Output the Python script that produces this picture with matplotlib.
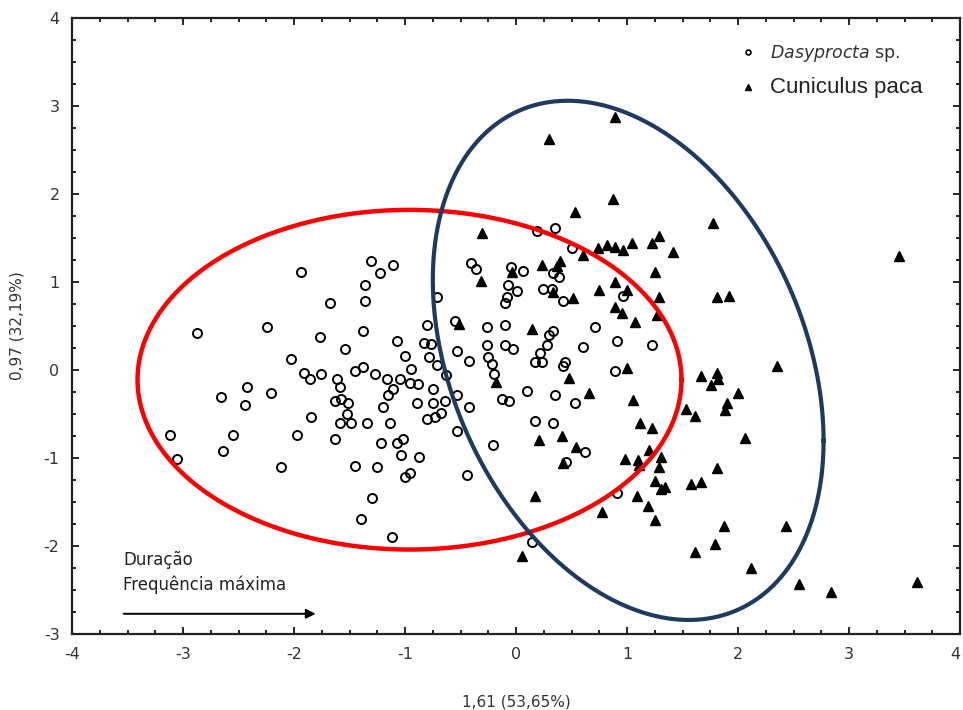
import numpy as np
import matplotlib
matplotlib.use("Agg")
import matplotlib.pyplot as plt
from matplotlib.lines import Line2D

plt.rcParams['axes.unicode_minus'] = False

# Dasyprocta sp. (open circles)
dasy_x = [-3.12, -3.05, -2.87, -2.66, -2.64, -2.55, -2.42, -2.44, -2.24, -2.21,
          -2.12, -2.03, -1.97, -1.94, -1.91, -1.86, -1.85, -1.77, -1.76, -1.68,
          -1.63, -1.61, -1.59, -1.59, -1.63, -1.58, -1.54, -1.52, -1.51, -1.49,
          -1.45, -1.45, -1.40, -1.38, -1.38, -1.36, -1.36, -1.34, -1.31, -1.30,
          -1.27, -1.25, -1.23, -1.22, -1.20, -1.16, -1.15, -1.14, -1.12, -1.11,
          -1.11, -1.07, -1.07, -1.05, -1.04, -1.02, -1.00, -1.00, -0.96, -0.96,
          -0.95, -0.89, -0.88, -0.87, -0.83, -0.80, -0.80, -0.78, -0.77, -0.75,
          -0.75, -0.73, -0.71, -0.71, -0.68, -0.64, -0.63, -0.55, -0.53, -0.53,
          -0.53, -0.44, -0.42, -0.42, -0.41, -0.36, -0.26, -0.26, -0.25, -0.22,
          -0.21, -0.20, -0.13, -0.10, -0.10, -0.10, -0.08, -0.07, -0.06, -0.05,
          -0.03, 0.01, 0.06, 0.10, 0.14, 0.17, 0.17, 0.19, 0.22, 0.23,
          0.24, 0.28, 0.30, 0.32, 0.33, 0.33, 0.33, 0.35, 0.35, 0.39,
          0.42, 0.42, 0.44, 0.45, 0.50, 0.53, 0.60, 0.62, 0.71, 0.89,
          0.91, 0.91, 0.96, 1.22]
dasy_y = [-0.74, -1.01, 0.42, -0.31, -0.92, -0.74, -0.19, -0.40, 0.49, -0.26,
          -1.10, 0.13, -0.74, 1.11, -0.03, -0.10, -0.53, 0.38, -0.05, 0.76,
          -0.35, -0.10, -0.19, -0.60, -0.78, -0.33, 0.24, -0.50, -0.38, -0.60,
          -0.01, -1.09, -1.69, 0.03, 0.44, 0.97, 0.78, -0.60, 1.24, -1.45,
          -0.05, -1.10, 1.10, -0.83, -0.42, -0.10, -0.28, -0.60, -1.90, 1.19,
          -0.22, 0.33, -0.83, -0.10, -0.97, -0.78, 0.16, -1.22, -1.17, -0.15,
          0.01, -0.38, -0.16, -0.99, 0.31, 0.51, -0.56, 0.15, 0.30, -0.22,
          -0.38, -0.53, 0.06, 0.83, -0.49, -0.35, -0.06, 0.56, 0.22, -0.28,
          -0.69, -1.19, 0.10, -0.42, 1.22, 1.15, 0.49, 0.28, 0.15, 0.07,
          -0.85, -0.05, -0.33, 0.76, 0.51, 0.28, 0.83, 0.97, -0.35, 1.17,
          0.24, 0.90, 1.12, -0.24, -1.95, 0.09, -0.58, 1.58, 0.19, 0.09,
          0.92, 0.28, 0.40, 0.92, 1.10, 0.44, -0.60, 1.61, -0.28, 1.06,
          0.78, 0.05, 0.09, -1.05, 1.39, -0.38, 0.26, -0.93, 0.49, -0.01,
          0.33, -1.40, 0.84, 0.28]

# Cuniculus paca (filled triangles)
paca_x = [0.89, 0.30, 0.87, 0.53, 1.77, 3.45, -0.31, 1.29, 1.22, 1.04,
          0.96, 0.89, 0.82, 0.74, 0.60, 1.41, 0.40, 0.37, 0.23, -0.04,
          0.89, 0.75, 1.00, 1.25, 1.29, 1.81, 1.92, 0.33, 0.51, -0.32,
          0.89, 0.95, 1.07, 1.27, -0.51, 0.14, -0.18, 0.48, 0.66, 1.05,
          1.00, 1.12, 1.22, 0.21, 0.41, 0.54, 0.42, 0.98, 1.10, 1.11,
          1.20, 1.31, 1.29, 0.17, 0.77, 1.09, 1.19, 1.25, 1.25, 1.31,
          1.34, 1.58, 1.67, 1.53, 1.61, 1.67, 1.81, 1.82, 1.76, 2.00,
          1.90, 1.88, 2.06, 2.35, 1.81, 1.87, 1.79, 1.61, 2.43, 2.12,
          2.55, 2.84, 3.61, 0.05]
paca_y = [2.88, 2.63, 1.94, 1.80, 1.67, 1.30, 1.56, 1.52, 1.44, 1.44,
          1.36, 1.40, 1.42, 1.39, 1.31, 1.34, 1.24, 1.18, 1.19, 1.11,
          1.00, 0.91, 0.91, 1.11, 0.83, 0.83, 0.84, 0.89, 0.82, 1.01,
          0.72, 0.65, 0.55, 0.63, 0.52, 0.47, -0.14, -0.09, -0.26, -0.34,
          0.02, -0.60, -0.66, -0.80, -0.75, -0.88, -1.06, -1.01, -1.02, -1.08,
          -0.91, -0.99, -1.10, -1.43, -1.61, -1.43, -1.55, -1.70, -1.26, -1.35,
          -1.33, -1.30, -1.27, -0.44, -0.52, -0.07, -0.03, -0.10, -0.17, -0.26,
          -0.38, -0.45, -0.77, 0.05, -1.11, -1.77, -1.98, -2.07, -1.77, -2.25,
          -2.43, -2.52, -2.41, -2.11]

# group ellipses: centre, half-extent in x and y, correlation
red_ell = dict(cx=-0.96, cy=-0.11, sx=2.45, sy=1.93, r=0.0)
blue_ell = dict(cx=1.01, cy=0.11, sx=1.76, sy=2.95, r=-0.31)

x_ticks = [-4, -3, -2, -1, 0, 1, 2, 3, 4]
y_ticks = [-3, -2, -1, 0, 1, 2, 3, 4]


def ellipse_xy(e, n=400):
    t = np.linspace(0, 2 * np.pi, n)
    x = e['cx'] + e['sx'] * np.cos(t)
    y = e['cy'] + e['sy'] * (e['r'] * np.cos(t) + np.sqrt(1 - e['r'] ** 2) * np.sin(t))
    return x, y


fig = plt.figure(figsize=(9.63, 7.10), dpi=100)
ax = fig.add_axes([0.0748, 0.107, 0.9222, 0.8676])

ax.plot(dasy_x, dasy_y, 'o', ms=6.5, mfc='none', mec='black', mew=1.4, zorder=3)
ax.plot(paca_x, paca_y, '^', ms=6.8, mfc='black', mec='black', zorder=3)

ex, ey = ellipse_xy(red_ell)
ax.plot(ex, ey, color='#ff0000', lw=3.2, zorder=4)
ex, ey = ellipse_xy(blue_ell)
ax.plot(ex, ey, color='#1f3a5f', lw=3.0, zorder=4)

# loading arrow
ax.annotate('', xy=(-1.78, -2.77), xytext=(-3.56, -2.77),
            arrowprops=dict(arrowstyle='-|>', lw=1.4, color='black', mutation_scale=14))
ax.text(-3.54, -2.16, 'Duração', fontsize=12, color='#222222', va='center')
ax.text(-3.54, -2.44, 'Frequência máxima', fontsize=12, color='#222222', va='center')

ax.set_xlim(-4, 4)
ax.set_ylim(-3, 4)
ax.set_xticks(x_ticks)
ax.set_yticks(y_ticks)
ax.set_xticks(np.arange(-4, 4.01, 0.25), minor=True)
ax.set_yticks(np.arange(-3, 4.01, 0.25), minor=True)
ax.tick_params(which='both', direction='in', top=True, right=True, width=1.2,
               colors='black', labelcolor='#333333', labelsize=11.5)
ax.tick_params(which='major', length=5, pad=9)
ax.tick_params(which='minor', length=3)
# last x label sits on the figure edge
ax.get_xticklabels()[-1].set_horizontalalignment('right')
for s in ax.spines.values():
    s.set_linewidth(1.6)
    s.set_color('#222222')

ax.set_xlabel('1,61 (53,65%)', fontsize=11, color='#333333', labelpad=24)
ax.set_ylabel('0,97 (32,19%)', fontsize=11, color='#333333', labelpad=14)

handles = [Line2D([], [], ls='none', marker='o', ms=3.5, mfc='none', mec='black', mew=1.2),
           Line2D([], [], ls='none', marker='^', ms=4.5, mfc='black', mec='black')]
leg = ax.legend(handles, [r'$\mathit{Dasyprocta}$ sp.', 'Cuniculus paca'],
                loc='upper left', bbox_to_anchor=(0.745, 0.97), frameon=False,
                handlelength=0.8, handletextpad=0.9, labelspacing=0.75,
                borderaxespad=0, fontsize=12.5)
texts = leg.get_texts()
texts[0].set_color('#333333')
texts[1].set_fontsize(16)
texts[1].set_family('Liberation Sans')
texts[1].set_color('#222222')

plt.savefig('out.png', dpi=100)
